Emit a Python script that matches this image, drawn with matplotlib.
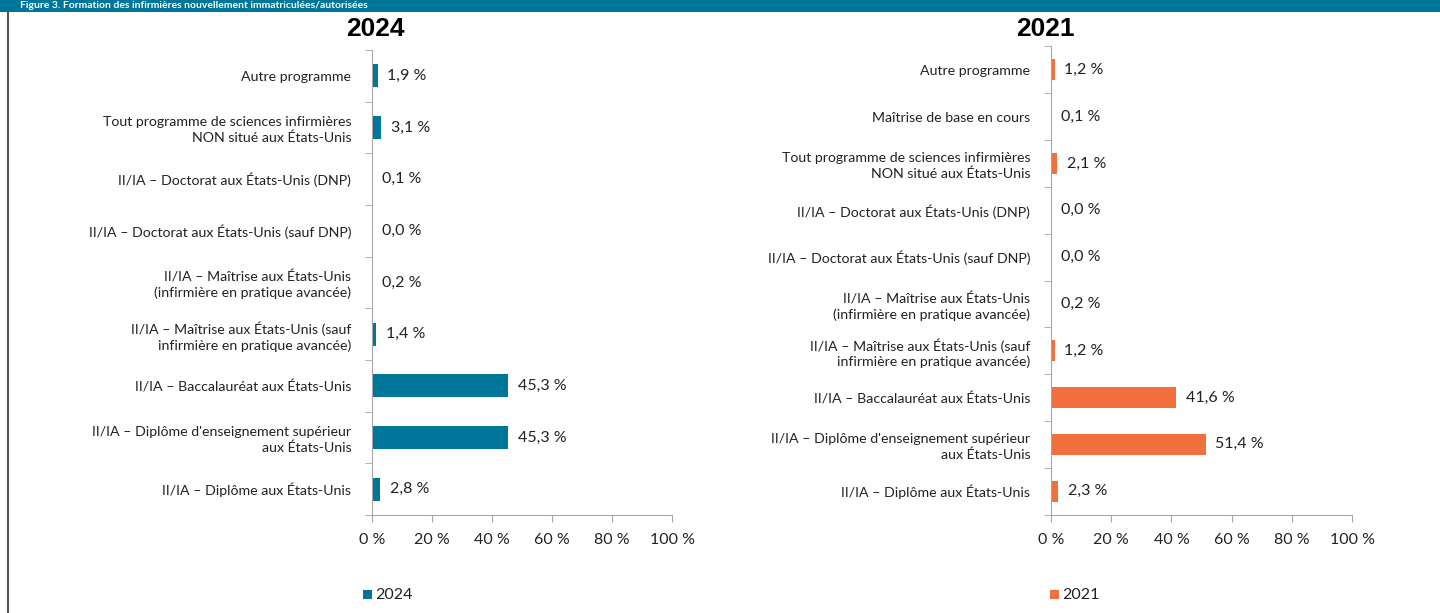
import matplotlib
matplotlib.use("Agg")
import matplotlib.pyplot as plt
from matplotlib.patches import Rectangle
from matplotlib.lines import Line2D

plt.rcParams['font.family'] = ['Lato', 'DejaVu Sans']

# --- data (top to bottom as shown) ---
cats_2024 = [
    "Autre programme",
    "Tout programme de sciences infirmières\nNON situé aux États-Unis",
    "II/IA – Doctorat aux États-Unis (DNP)",
    "II/IA – Doctorat aux États-Unis (sauf DNP)",
    "II/IA – Maîtrise aux États-Unis\n(infirmière en pratique avancée)",
    "II/IA – Maîtrise aux États-Unis (sauf\ninfirmière en pratique avancée)",
    "II/IA – Baccalauréat aux États-Unis",
    "II/IA – Diplôme d'enseignement supérieur\naux États-Unis",
    "II/IA – Diplôme aux États-Unis",
]
vals_2024 = [1.9, 3.1, 0.1, 0.0, 0.2, 1.4, 45.3, 45.3, 2.8]

cats_2021 = [
    "Autre programme",
    "Maîtrise de base en cours",
    "Tout programme de sciences infirmières\nNON situé aux États-Unis",
    "II/IA – Doctorat aux États-Unis (DNP)",
    "II/IA – Doctorat aux États-Unis (sauf DNP)",
    "II/IA – Maîtrise aux États-Unis\n(infirmière en pratique avancée)",
    "II/IA – Maîtrise aux États-Unis (sauf\ninfirmière en pratique avancée)",
    "II/IA – Baccalauréat aux États-Unis",
    "II/IA – Diplôme d'enseignement supérieur\naux États-Unis",
    "II/IA – Diplôme aux États-Unis",
]
vals_2021 = [1.2, 0.1, 2.1, 0.0, 0.0, 0.2, 1.2, 41.6, 51.4, 2.3]

xticks = [0, 20, 40, 60, 80, 100]
xtick_labels = ["0 %", "20 %", "40 %", "60 %", "80 %", "100 %"]

teal = "#00769B"
orange = "#F26F3E"
spine_col = "#A6A6A6"

fig = plt.figure(figsize=(14.4, 6.13), dpi=100)

# banner strip at the top
fig.patches.append(Rectangle((0, 1 - 12 / 613), 1, 12 / 613, transform=fig.transFigure,
                             facecolor="#00759A", edgecolor="none", zorder=0))
fig.text(20 / 1440, 1 - 6 / 613,
         "Figure 3. Formation des infirmières nouvellement immatriculées/autorisées",
         color="white", fontsize=7.5, fontweight="bold", va="center", ha="left")
fig.lines.append(Line2D([8 / 1440, 8 / 1440], [0, 1 - 12 / 613], transform=fig.transFigure,
                        color="#555555", lw=1.5))


def draw(rect, cats, vals, color, title, title_x, leg_x):
    ax = fig.add_axes(rect)
    n = len(cats)
    y = list(range(n))
    ax.barh(y, vals, height=0.45, color=color)
    ax.set_ylim(n - 0.5, -0.5)
    ax.set_xlim(0, 100)
    ax.set_yticks(y)
    ax.set_yticklabels(cats, fontsize=10.2, color="#222222", linespacing=1.3)
    ax.tick_params(axis="y", length=0, pad=15)
    ax.set_yticks([i + 0.5 for i in range(-1, n)], minor=True)
    ax.tick_params(axis="y", which="minor", length=5, color=spine_col)
    ax.set_xticks(xticks)
    ax.set_xticklabels(xtick_labels, fontsize=11.5, color="#222222")
    ax.tick_params(axis="x", length=5, color=spine_col, pad=8)
    for s in ["top", "right"]:
        ax.spines[s].set_visible(False)
    for s in ["left", "bottom"]:
        ax.spines[s].set_color(spine_col)
    for yi, v in zip(y, vals):
        ax.annotate(f"{v:.1f} %".replace(".", ","), (v, yi), xytext=(7, 0),
                    textcoords="offset points", va="center", ha="left",
                    fontsize=11.5, color="#222222")
    fig.text(title_x, 1 - 29 / 613, title, ha="center", va="center",
             fontsize=19, fontweight="bold", family="Liberation Sans")
    fig.patches.append(Rectangle((leg_x, 1 - 599 / 613), 9 / 1440, 9 / 613,
                                 transform=fig.transFigure, facecolor=color,
                                 edgecolor="none"))
    fig.text(leg_x + 12 / 1440, 1 - 595 / 613, title, ha="left", va="center",
             fontsize=11.5, color="#222222")
    return ax


draw([372 / 1440, 1 - 515 / 613, 300 / 1440, 465 / 613], cats_2024, vals_2024,
     teal, "2024", 375 / 1440, 363 / 1440)
draw([1051 / 1440, 1 - 514.5 / 613, 301 / 1440, 468 / 613], cats_2021, vals_2021,
     orange, "2021", 1045 / 1440, 1050 / 1440)

fig.savefig("out.png", dpi=100)
